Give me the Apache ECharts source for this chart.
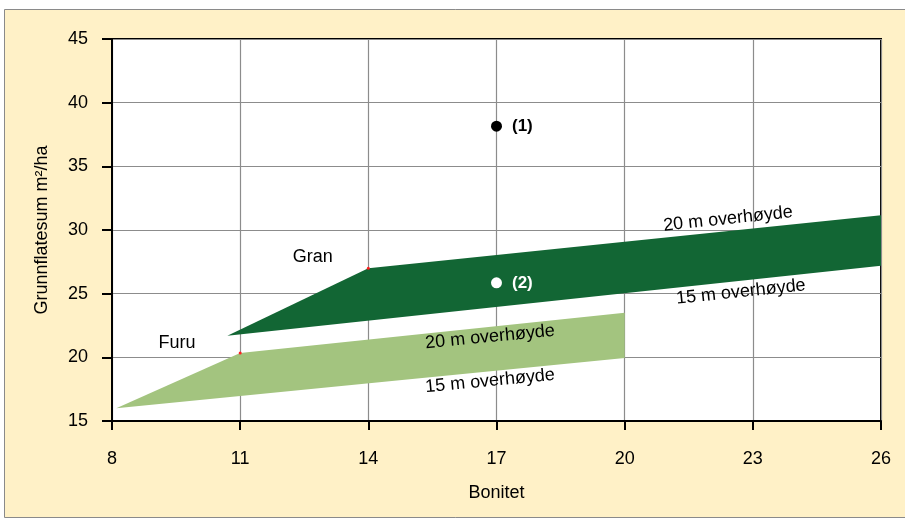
<!DOCTYPE html>
<html><head><meta charset="utf-8">
<script src="https://cdn.jsdelivr.net/npm/echarts@6/dist/echarts.min.js"></script>
<style>html,body{margin:0;padding:0;background:#fff}#c{width:905px;height:520px}</style>
</head><body><div id="c"></div>
<script>
const xTicks = [8, 11, 14, 17, 20, 23, 26];
const yTicks = [15, 20, 25, 30, 35, 40, 45];
// Gran (dark green) band edges
const granUpper = [[10.7, 21.7], [14, 27.0], [26, 31.15]];
const granLower = [[10.7, 21.7], [26, 27.2]];
// Furu (light green) band edges
const furuUpper = [[8.1, 16.0], [11, 20.35], [20, 23.5]];
const furuLower = [[8.1, 16.0], [20, 19.95]];
// reference points
const refPoints = [[17, 38.15, '(1)'], [17, 25.85, '(2)']];
const redMarks = [[11, 20.35], [14, 27.0]];
// text annotations [x, y, text, rotate]
const speciesLabels = [[12.7, 27.9, 'Gran'], [9.52, 21.13, 'Furu']];
const heightLabels = [
  [22.42, 30.87, '20 m overhøyde', 6],
  [22.72, 25.13, '15 m overhøyde', 6],
  [16.85, 21.6, '20 m overhøyde', 5.5],
  [16.85, 18.14, '15 m overhøyde', 5.5]
];

const FONT = '"Liberation Sans", Arial, sans-serif';
const NARROW = '"Liberation Sans Narrow", "Arial Narrow", "Liberation Sans", sans-serif';
function polygon(upper, lower) {
  return upper.concat(lower.slice().reverse());
}
function polySeries(pts, color) {
  return {
    type: 'custom', silent: true, z: 2,
    data: [0],
    renderItem: function (params, api) {
      return {
        type: 'polygon',
        shape: { points: pts.map(p => api.coord(p)) },
        style: { fill: color }
      };
    }
  };
}

const chart = echarts.init(document.getElementById('c'));
chart.setOption({
  backgroundColor: '#fff',
  animation: false,
  graphic: [{
    type: 'rect', z: -10, silent: true,
    shape: { x: 4.5, y: 9.5, width: 905, height: 508 },
    style: { fill: '#FFF1C7', stroke: '#8a8a8a', lineWidth: 1 }
  }],
  grid: { left: 112, right: 24, top: 39, bottom: 99, show: true, backgroundColor: '#fff', borderColor: '#000', borderWidth: 2 },
  xAxis: {
    type: 'value', min: xTicks[0], max: xTicks[xTicks.length - 1], interval: 3,
    name: 'Bonitet', nameLocation: 'middle', nameGap: 63,
    nameTextStyle: { fontFamily: NARROW, fontSize: 18, color: '#000' },
    axisLine: { lineStyle: { color: '#000', width: 2 } },
    axisTick: { show: true, length: 9, lineStyle: { color: '#000', width: 2 } },
    axisLabel: { fontFamily: NARROW, fontSize: 18, color: '#000', margin: 29 },
    splitLine: { show: true, lineStyle: { color: '#8c8c8c', width: 1.2 } }
  },
  yAxis: {
    type: 'value', min: yTicks[0], max: yTicks[yTicks.length - 1], interval: 5,
    name: 'Grunnflatesum m²/ha', nameLocation: 'middle', nameGap: 61,
    nameTextStyle: { fontFamily: FONT, fontSize: 18, color: '#000' },
    axisLine: { lineStyle: { color: '#000', width: 2 } },
    axisTick: { show: true, length: 10, lineStyle: { color: '#000', width: 2 } },
    axisLabel: { fontFamily: FONT, fontSize: 18, color: '#000', margin: 24 },
    splitLine: { show: true, lineStyle: { color: '#8c8c8c', width: 1.2 } }
  },
  series: [
    polySeries(polygon(furuUpper, furuLower), '#A3C47F'),
    polySeries(polygon(granUpper, granLower), '#126634'),
    {
      type: 'scatter', z: 5, silent: true, symbolSize: 3,
      itemStyle: { color: '#ff2020', opacity: 1 },
      data: redMarks
    },
    {
      type: 'scatter', z: 6, silent: true, symbolSize: 11,
      itemStyle: { opacity: 1 },
      data: refPoints.map((p, i) => ({
        value: [p[0], p[1]],
        itemStyle: { color: i === 0 ? '#000' : '#fff', opacity: 1 },
        label: {
          show: true, position: 'right', distance: 10, formatter: p[2],
          fontFamily: FONT, fontSize: 17, fontWeight: 'bold',
          color: i === 0 ? '#000' : '#fff', opacity: 1
        }
      }))
    },
    {
      type: 'scatter', z: 7, silent: true, symbolSize: 0,
      itemStyle: { opacity: 1 },
      data: speciesLabels.map(p => ({
        value: [p[0], p[1]],
        label: { show: true, position: 'inside', formatter: p[2], fontFamily: FONT, fontSize: 18, color: '#000', opacity: 1 }
      }))
    },
    {
      type: 'scatter', z: 7, silent: true, symbolSize: 0,
      itemStyle: { opacity: 1 },
      data: heightLabels.map(p => ({
        value: [p[0], p[1]],
        label: { show: true, position: 'inside', formatter: p[2], rotate: p[3], fontFamily: FONT, fontSize: 18, color: '#000', opacity: 1 }
      }))
    }
  ]
});
</script></body></html>
